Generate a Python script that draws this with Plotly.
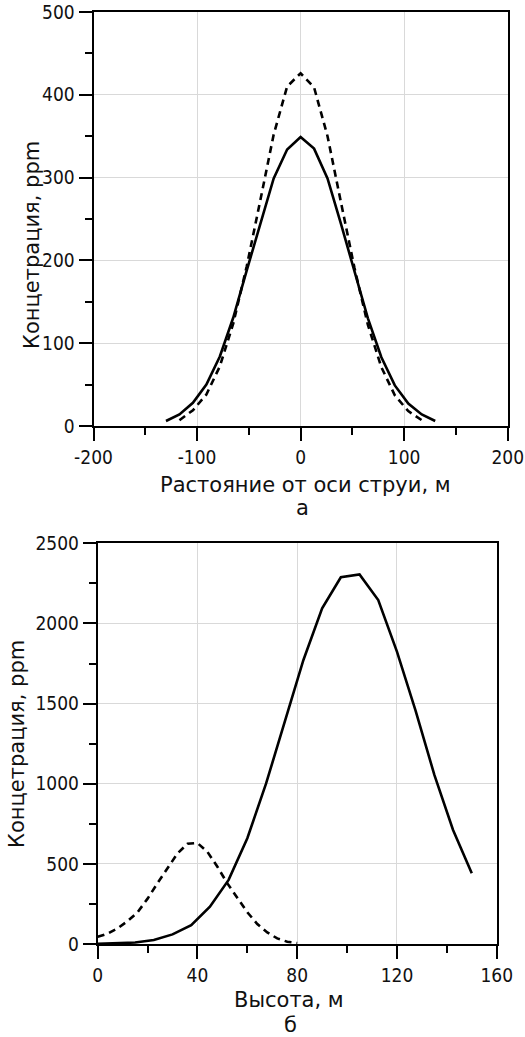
import plotly.graph_objects as go

W, H = 525, 1037

# ---- Panel (a): concentration across the jet ----
dist_solid = [-130, -117, -104, -91, -78, -65, -52, -39, -26, -13, 0, 13, 26, 39, 52, 65, 78, 91, 104, 117, 130]
conc_solid = [6, 14, 28, 50, 84, 131, 188, 245, 299, 334, 349, 335, 299, 244, 187, 130, 83, 49, 27, 14, 6]
dist_dash = [-117, -104, -91, -78, -65, -52, -39, -26, -13, 0, 13, 26, 39, 52, 65, 78, 91, 104, 117]
conc_dash = [7, 19, 38, 72, 124, 193, 272, 352, 410, 426, 409, 350, 270, 191, 122, 71, 37, 18, 7]

# ---- Panel (b): concentration vs height ----
h_solid = [0, 7.5, 15, 22.5, 30, 37.5, 45, 52.5, 60, 67.5, 75, 82.5, 90, 97.5, 105, 112.5, 120, 127.5, 135, 142.5, 150]
c_solid = [2, 4, 9, 25, 60, 118, 233, 400, 660, 1000, 1390, 1772, 2094, 2288, 2306, 2146, 1824, 1455, 1055, 711, 441]
h_dash = [0, 4, 8, 12, 16, 20, 24, 28, 32, 36, 40, 44, 48, 52, 56, 60, 64, 68, 72, 76, 80]
c_dash = [45, 65, 98, 143, 198, 283, 380, 475, 565, 625, 630, 575, 482, 378, 285, 198, 125, 72, 35, 14, 6]

xticks_a = [-200, -100, 0, 100, 200]
yticks_a = [0, 100, 200, 300, 400, 500]
xticks_b = [0, 40, 80, 120, 160]
yticks_b = [0, 500, 1000, 1500, 2000, 2500]

title_a_x = "Растояние от оси струи, м"
title_b_x = "Высота, м"
title_y = "Концетрация, ppm"

def px_x(p):
    return p / W

def px_y(p):
    return 1 - p / H

TICKFONT = dict(family="Liberation Sans Narrow, DejaVu Sans Condensed, sans-serif", size=19, color="#111")
TITLEFONT = dict(family="DejaVu Sans, Verdana, sans-serif", size=21, color="#111")

fig = go.Figure()
line_solid = dict(color="black", width=2.6)
line_dash = dict(color="black", width=2.6, dash="7px,5px")

fig.add_trace(go.Scatter(x=dist_solid, y=conc_solid, mode="lines", line=line_solid, xaxis="x", yaxis="y"))
fig.add_trace(go.Scatter(x=dist_dash, y=conc_dash, mode="lines", line=line_dash, xaxis="x", yaxis="y"))
fig.add_trace(go.Scatter(x=h_solid, y=c_solid, mode="lines", line=line_solid, xaxis="x2", yaxis="y2"))
fig.add_trace(go.Scatter(x=h_dash, y=c_dash, mode="lines", line=line_dash, xaxis="x2", yaxis="y2"))

common = dict(showline=True, linecolor="black", linewidth=2, mirror=True,
              ticks="outside", ticklen=13, tickwidth=1.5, tickcolor="black",
              showgrid=True, gridcolor="#d9d9d9", gridwidth=1, zeroline=False,
              tickfont=TICKFONT, fixedrange=True, automargin=False)

fig.update_layout(
    width=W, height=H, margin=dict(l=0, r=0, t=0, b=0, pad=0),
    paper_bgcolor="white", plot_bgcolor="white", showlegend=False,
    xaxis=dict(domain=[px_x(93.5), px_x(507.7)], range=[-200, 200], anchor="y",
               tickvals=xticks_a, ticktext=[str(v) for v in xticks_a],
               minor=dict(ticks="outside", ticklen=7, tickwidth=1.5, tickcolor="black",
                          tickvals=[-150, -50, 50, 150], showgrid=False),
               **common),
    yaxis=dict(domain=[px_y(426), px_y(12)], range=[0, 500], anchor="x",
               tickvals=yticks_a, ticktext=[str(v) for v in yticks_a],
               minor=dict(ticks="outside", ticklen=7, tickwidth=1.5, tickcolor="black",
                          tickvals=[50, 150, 250, 350, 450], showgrid=False),
               **common),
    xaxis2=dict(domain=[px_x(97.7), px_x(496.7)], range=[0, 160], anchor="y2",
                tickvals=xticks_b, ticktext=[str(v) for v in xticks_b],
                minor=dict(ticks="outside", ticklen=7, tickwidth=1.5, tickcolor="black",
                           tickvals=[20, 60, 100, 140], showgrid=False),
                **common),
    yaxis2=dict(domain=[px_y(944), px_y(543.3)], range=[0, 2500], anchor="x2",
                tickvals=yticks_b, ticktext=[str(v) for v in yticks_b],
                minor=dict(ticks="outside", ticklen=7, tickwidth=1.5, tickcolor="black",
                           tickvals=[250, 750, 1250, 1750, 2250], showgrid=False),
                **common),
)

annots = [
    dict(text=title_a_x, x=px_x(305), y=px_y(485)),
    dict(text="а", x=px_x(302), y=px_y(508)),
    dict(text=title_y, x=px_x(32), y=px_y(245), textangle=-90),
    dict(text=title_b_x, x=px_x(289), y=px_y(1000)),
    dict(text="б", x=px_x(290), y=px_y(1025)),
    dict(text=title_y, x=px_x(17), y=px_y(744), textangle=-90),
]
for a in annots:
    fig.add_annotation(xref="paper", yref="paper", xanchor="center", yanchor="middle",
                       showarrow=False, font=TITLEFONT, **a)

fig.write_html("out.html")
